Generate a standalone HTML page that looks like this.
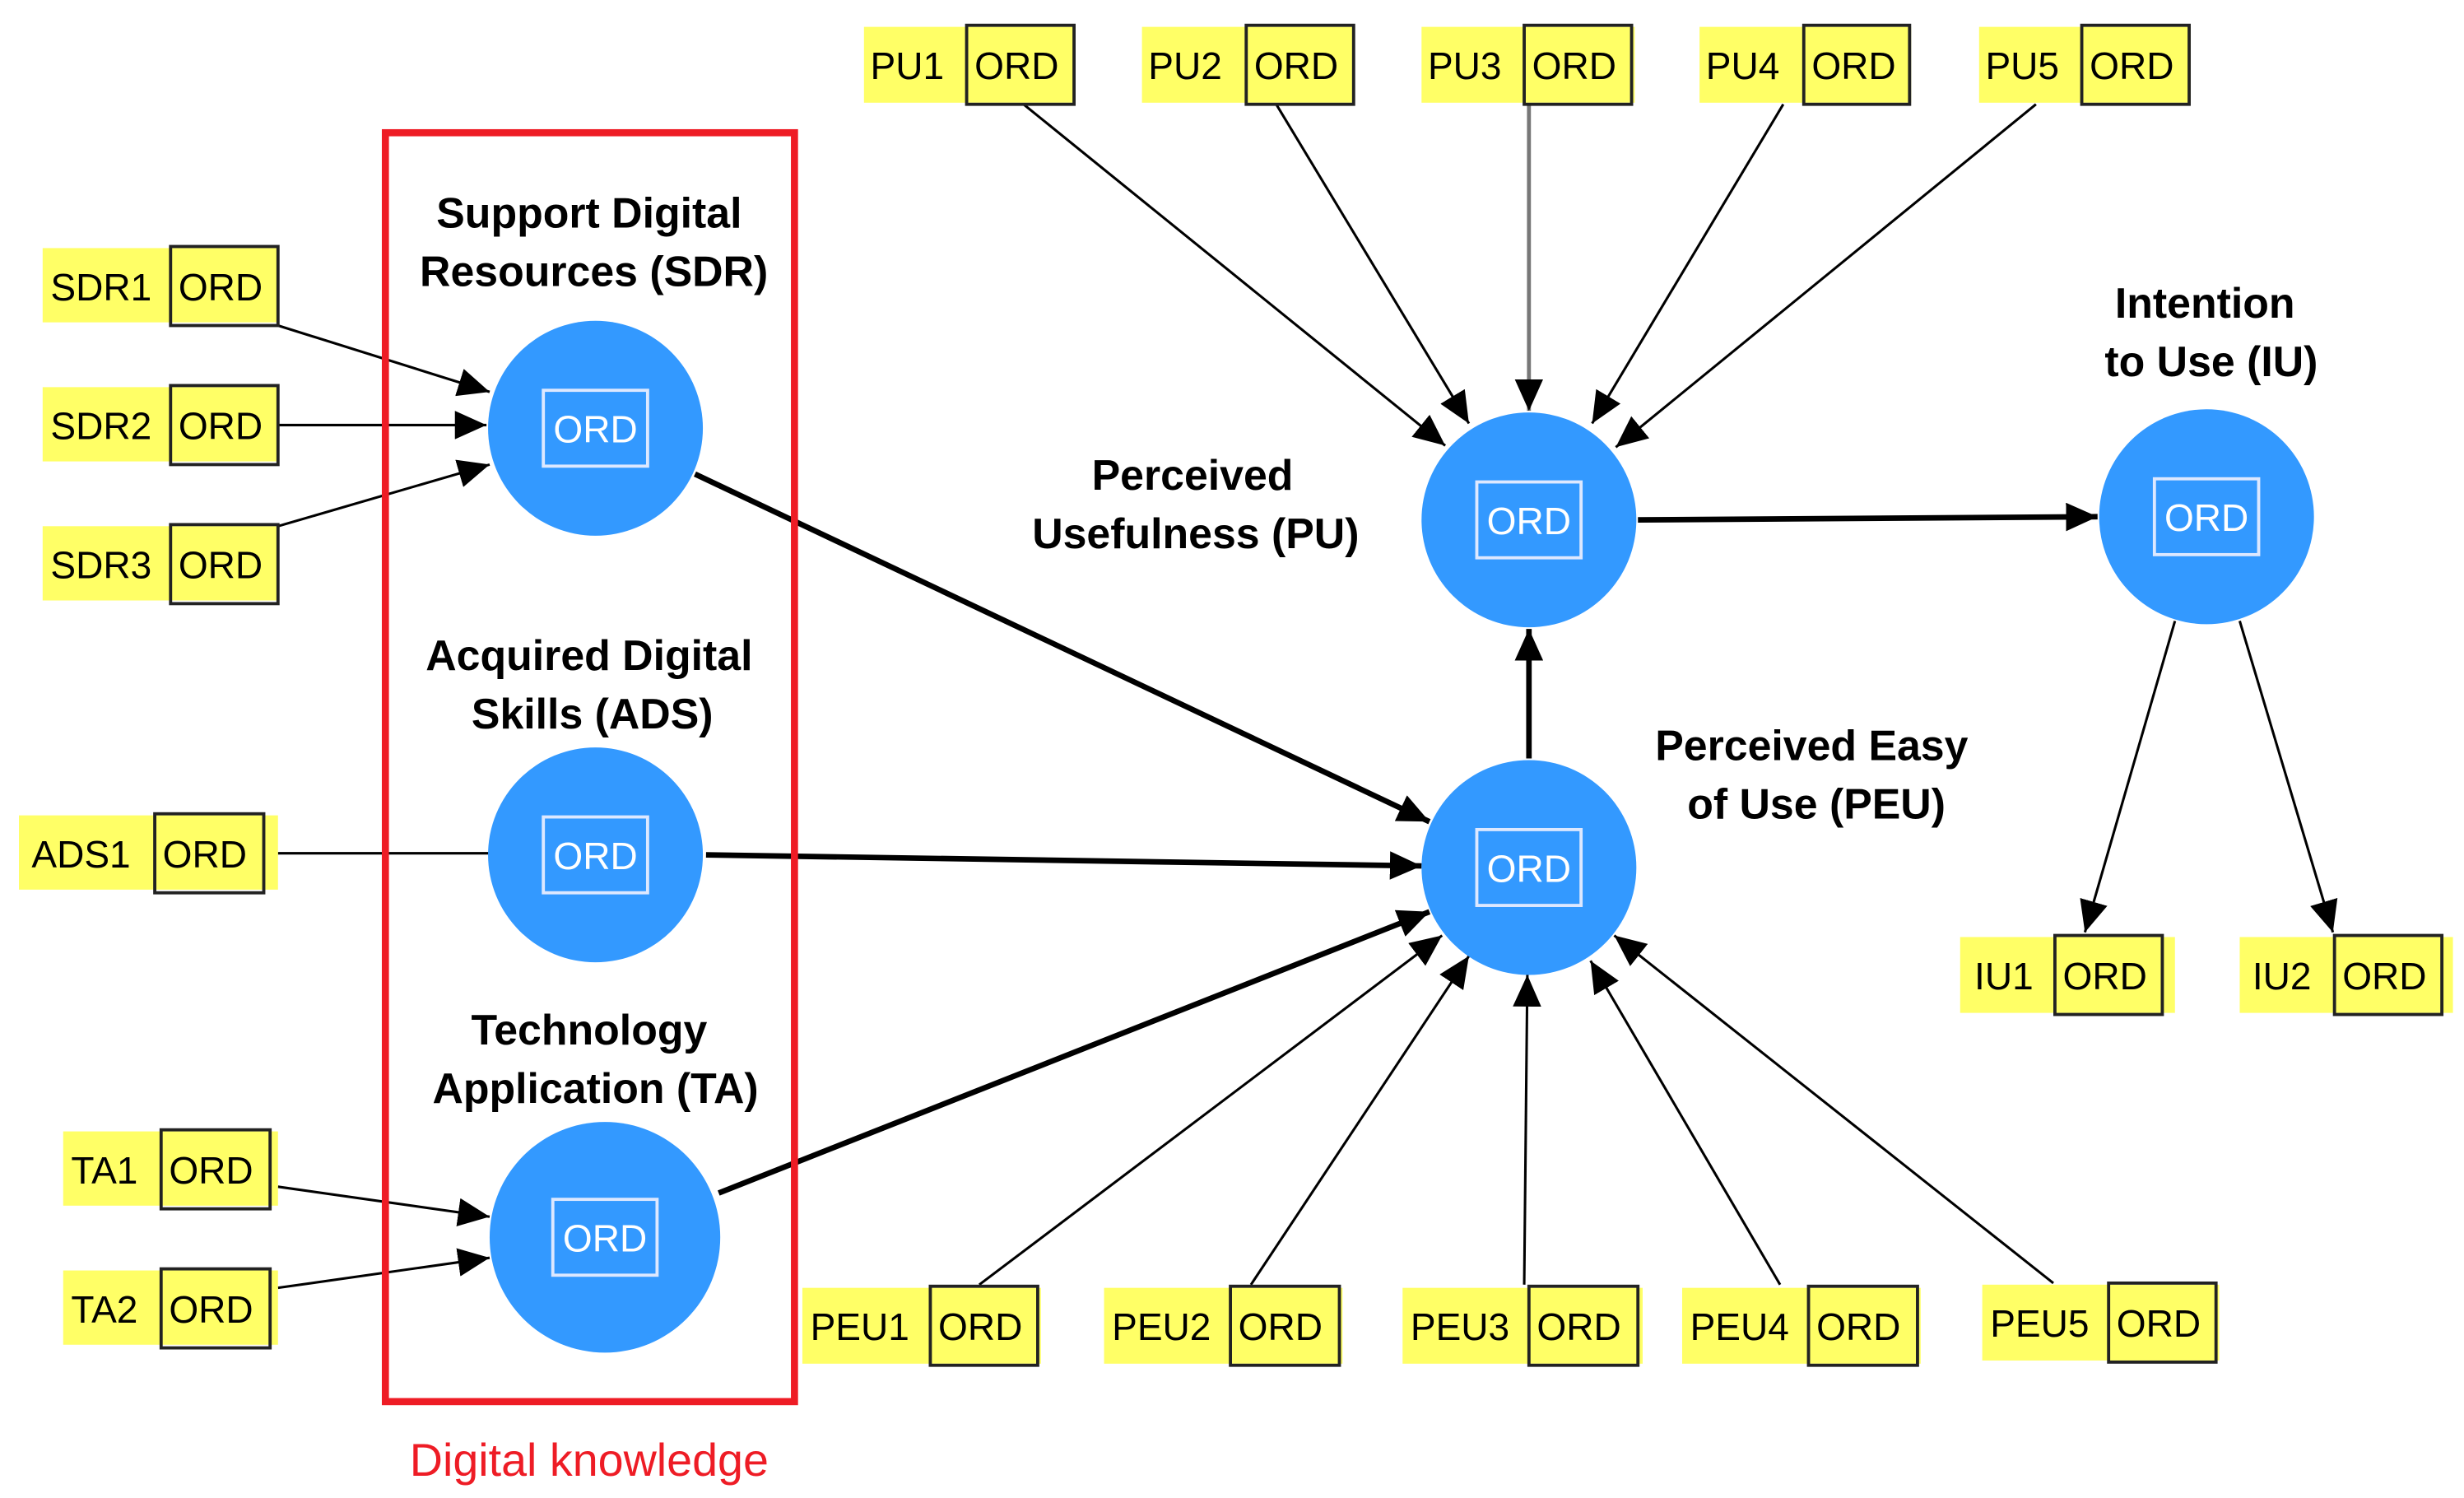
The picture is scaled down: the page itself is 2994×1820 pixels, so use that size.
<!DOCTYPE html>
<html><head><meta charset="utf-8"><style>
html,body{margin:0;padding:0;background:#fff;width:2994px;height:1820px;overflow:hidden}
svg{display:block}
.b{font-family:"Liberation Sans",sans-serif;font-weight:bold;font-size:27px;fill:#000;text-anchor:middle}
.t{font-family:"Liberation Sans",sans-serif;font-size:24px;fill:#000}
.w{font-family:"Liberation Sans",sans-serif;font-size:24px;fill:#fff;text-anchor:middle}
</style></head><body>
<svg width="2994" height="1820" viewBox="0 0 1560 948" preserveAspectRatio="none" xmlns="http://www.w3.org/2000/svg">
<defs>
<marker id="a" markerUnits="userSpaceOnUse" markerWidth="20" markerHeight="18" refX="20" refY="9" orient="auto"><path d="M0,0 L20,9 L0,18 Z" fill="#000"/></marker>
</defs>
<g stroke="#000" stroke-width="1.6" fill="none">
<line x1="176" y1="206" x2="310" y2="248" marker-end="url(#a)"/>
<line x1="176" y1="269" x2="308" y2="269" marker-end="url(#a)"/>
<line x1="176" y1="333" x2="310" y2="294" marker-end="url(#a)"/>
<line x1="176" y1="540" x2="310" y2="540"/>
<line x1="176" y1="751" x2="310" y2="770" marker-end="url(#a)"/>
<line x1="176" y1="815" x2="310" y2="796" marker-end="url(#a)"/>
<line x1="648" y1="66" x2="915" y2="282" marker-end="url(#a)"/>
<line x1="808" y1="66" x2="930" y2="268" marker-end="url(#a)"/>
<line x1="968" y1="66" x2="968" y2="260" stroke="#777" stroke-width="2.5" marker-end="url(#a)"/>
<line x1="1129" y1="66" x2="1008" y2="268" marker-end="url(#a)"/>
<line x1="1289" y1="66" x2="1023" y2="283" marker-end="url(#a)"/>
<line x1="620" y1="813" x2="913" y2="592" marker-end="url(#a)"/>
<line x1="792" y1="813" x2="930" y2="605" marker-end="url(#a)"/>
<line x1="965" y1="813" x2="967" y2="617" marker-end="url(#a)"/>
<line x1="1127" y1="813" x2="1007" y2="608" marker-end="url(#a)"/>
<line x1="1300" y1="812" x2="1022" y2="592" marker-end="url(#a)"/>
<line x1="1377" y1="393" x2="1320" y2="590" marker-end="url(#a)"/>
<line x1="1418" y1="393" x2="1477" y2="590" marker-end="url(#a)"/>
</g>
<g stroke="#000" stroke-width="3.5" fill="none">
<line x1="440" y1="300" x2="905" y2="520" marker-end="url(#a)"/>
<line x1="447" y1="541" x2="900" y2="548" marker-end="url(#a)"/>
<line x1="455" y1="755" x2="905" y2="577" marker-end="url(#a)"/>
<line x1="1037" y1="329" x2="1328" y2="327" marker-end="url(#a)"/>
<line x1="968" y1="480" x2="968" y2="398" marker-end="url(#a)"/>
</g>
<rect x="244" y="84" width="259" height="803" fill="none" stroke="#ee1c25" stroke-width="4.5"/>
<text x="373" y="934" font-family="Liberation Sans,sans-serif" font-size="29" fill="#ee1c25" text-anchor="middle">Digital knowledge</text>
<g fill="#3399ff">
<circle cx="377" cy="271" r="68"/><circle cx="377" cy="541" r="68"/><ellipse cx="383" cy="783" rx="73" ry="73"/>
<circle cx="968" cy="329" r="68"/><circle cx="968" cy="549" r="68"/><circle cx="1397" cy="327" r="68"/>
</g>
<g fill="none" stroke="#dde8ff" stroke-width="2">
<rect x="344" y="247" width="66" height="48"/><rect x="344" y="517" width="66" height="48"/><rect x="350" y="759" width="66" height="48"/>
<rect x="935" y="305" width="66" height="48"/><rect x="935" y="525" width="66" height="48"/><rect x="1364" y="303" width="66" height="48"/>
</g>
<text class="w" x="377" y="280">ORD</text><text class="w" x="377" y="550">ORD</text><text class="w" x="383" y="792">ORD</text>
<text class="w" x="968" y="338">ORD</text><text class="w" x="968" y="558">ORD</text><text class="w" x="1397" y="336">ORD</text>
<g class="b">
<text x="373" y="144">Support Digital</text><text x="376" y="181">Resources (SDR)</text>
<text x="373" y="424">Acquired Digital</text><text x="375" y="461">Skills (ADS)</text>
<text x="373" y="661">Technology</text><text x="377" y="698">Application (TA)</text>
<text x="755" y="310">Perceived</text><text x="757" y="347">Usefulness (PU)</text>
<text x="1396" y="201">Intention</text><text x="1400" y="238">to Use (IU)</text>
<text x="1147" y="481">Perceived Easy</text><text x="1150" y="518">of Use (PEU)</text>
</g>
<g stroke="#222" stroke-width="2">
<rect x="27" y="157" width="149" height="47" fill="#ffff66" stroke="none"/><rect x="108" y="156" width="68" height="50" fill="none"/>
<rect x="27" y="245" width="149" height="47" fill="#ffff66" stroke="none"/><rect x="108" y="244" width="68" height="50" fill="none"/>
<rect x="27" y="333" width="149" height="47" fill="#ffff66" stroke="none"/><rect x="108" y="332" width="68" height="50" fill="none"/>
<rect x="12" y="516" width="164" height="47" fill="#ffff66" stroke="none"/><rect x="98" y="515" width="69" height="50" fill="none"/>
<rect x="40" y="716" width="136" height="47" fill="#ffff66" stroke="none"/><rect x="102" y="715" width="69" height="50" fill="none"/>
<rect x="40" y="804" width="136" height="47" fill="#ffff66" stroke="none"/><rect x="102" y="803" width="69" height="50" fill="none"/>
<rect x="547" y="17" width="134" height="48" fill="#ffff66" stroke="none"/><rect x="612" y="16" width="68" height="50" fill="none"/>
<rect x="723" y="17" width="134" height="48" fill="#ffff66" stroke="none"/><rect x="789" y="16" width="68" height="50" fill="none"/>
<rect x="900" y="17" width="135" height="48" fill="#ffff66" stroke="none"/><rect x="965" y="16" width="68" height="50" fill="none"/>
<rect x="1076" y="17" width="134" height="48" fill="#ffff66" stroke="none"/><rect x="1142" y="16" width="67" height="50" fill="none"/>
<rect x="1253" y="17" width="134" height="48" fill="#ffff66" stroke="none"/><rect x="1318" y="16" width="68" height="50" fill="none"/>
<rect x="508" y="815" width="151" height="48" fill="#ffff66" stroke="none"/><rect x="589" y="814" width="68" height="50" fill="none"/>
<rect x="699" y="815" width="151" height="48" fill="#ffff66" stroke="none"/><rect x="779" y="814" width="69" height="50" fill="none"/>
<rect x="888" y="815" width="152" height="48" fill="#ffff66" stroke="none"/><rect x="968" y="814" width="69" height="50" fill="none"/>
<rect x="1065" y="815" width="151" height="48" fill="#ffff66" stroke="none"/><rect x="1145" y="814" width="69" height="50" fill="none"/>
<rect x="1255" y="813" width="150" height="48" fill="#ffff66" stroke="none"/><rect x="1335" y="812" width="68" height="50" fill="none"/>
<rect x="1241" y="593" width="136" height="48" fill="#ffff66" stroke="none"/><rect x="1301" y="592" width="68" height="50" fill="none"/>
<rect x="1418" y="593" width="135" height="48" fill="#ffff66" stroke="none"/><rect x="1478" y="592" width="68" height="50" fill="none"/>
</g>
<g class="t">
<text x="32" y="190">SDR1</text><text x="113" y="190">ORD</text>
<text x="32" y="278">SDR2</text><text x="113" y="278">ORD</text>
<text x="32" y="366">SDR3</text><text x="113" y="366">ORD</text>
<text x="20" y="549">ADS1</text><text x="103" y="549">ORD</text>
<text x="45" y="749">TA1</text><text x="107" y="749">ORD</text>
<text x="45" y="837">TA2</text><text x="107" y="837">ORD</text>
<text x="551" y="50">PU1</text><text x="617" y="50">ORD</text>
<text x="727" y="50">PU2</text><text x="794" y="50">ORD</text>
<text x="904" y="50">PU3</text><text x="970" y="50">ORD</text>
<text x="1080" y="50">PU4</text><text x="1147" y="50">ORD</text>
<text x="1257" y="50">PU5</text><text x="1323" y="50">ORD</text>
<text x="513" y="848">PEU1</text><text x="594" y="848">ORD</text>
<text x="704" y="848">PEU2</text><text x="784" y="848">ORD</text>
<text x="893" y="848">PEU3</text><text x="973" y="848">ORD</text>
<text x="1070" y="848">PEU4</text><text x="1150" y="848">ORD</text>
<text x="1260" y="846">PEU5</text><text x="1340" y="846">ORD</text>
<text x="1250" y="626">IU1</text><text x="1306" y="626">ORD</text>
<text x="1426" y="626">IU2</text><text x="1483" y="626">ORD</text>
</g>
</svg>
</body></html>
